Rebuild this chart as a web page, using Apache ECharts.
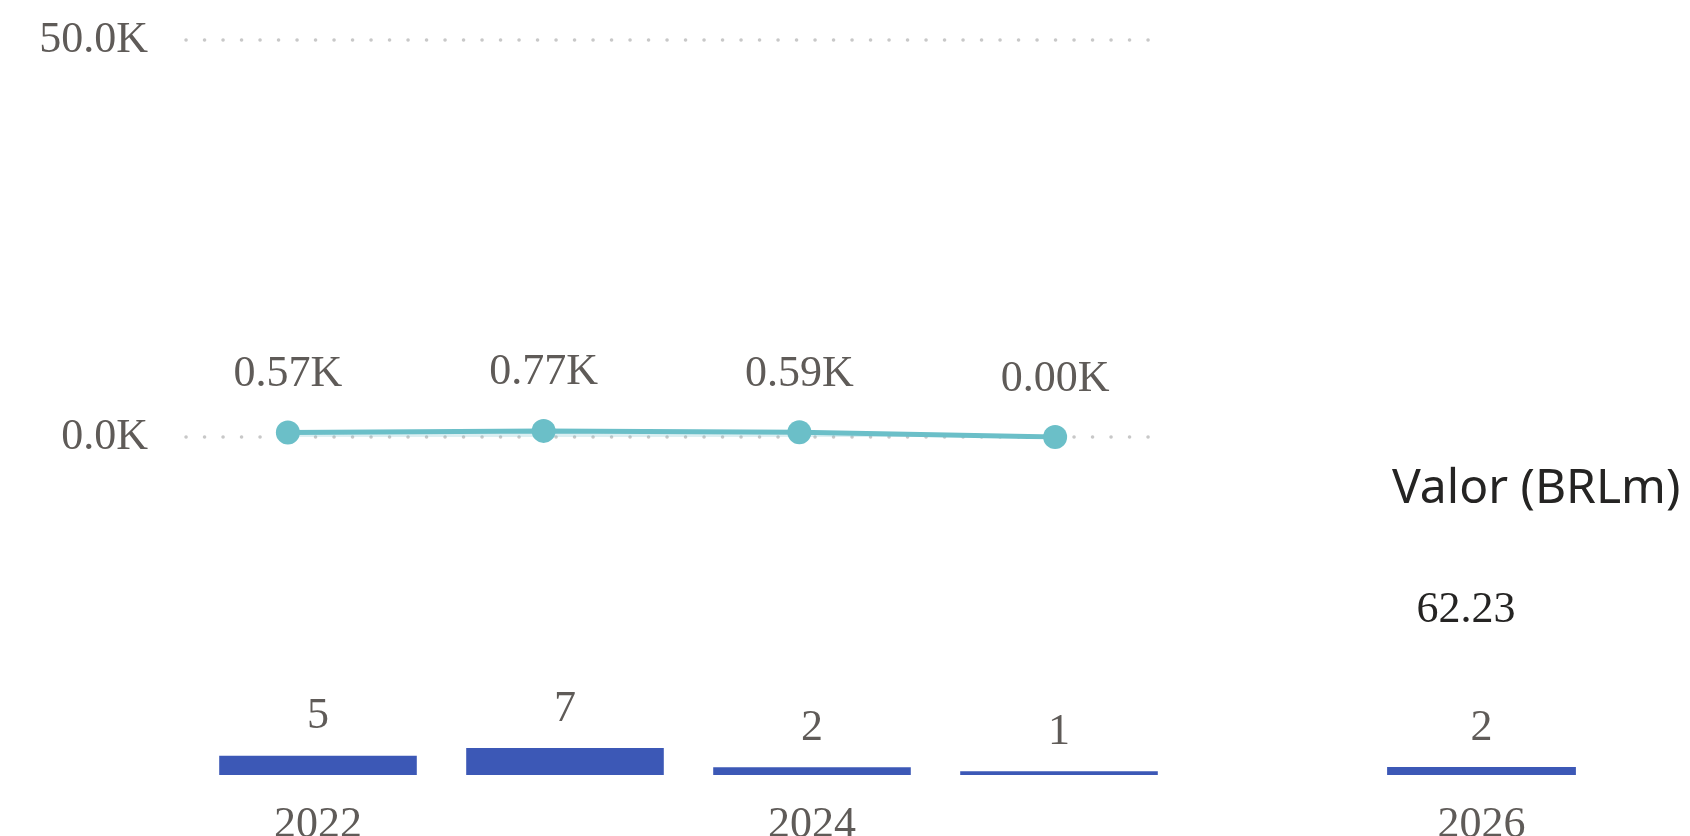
<!DOCTYPE html>
<html>
<head>
<meta charset="utf-8">
<script src="https://cdn.jsdelivr.net/npm/echarts@6/dist/echarts.min.js"></script>
<style>html,body{margin:0;padding:0;background:#fff}#c{width:1690px;height:836px}</style>
</head>
<body>
<div id="c"></div>
<script>
const years = ['2022', '2023', '2024', '2025'];
const lineValues = [570, 770, 590, 0];
const barValues = [5, 7, 2, 1];
const sideYears = ['2026'];
const sideBarValues = [2];
const sideTitle = 'Valor (BRLm)';
const sideKpi = '62.23';
const yTicks = [0, 50000];

const serif = '"Liberation Serif", "DejaVu Serif", serif';
const gray = '#5f5b58';
const chart = echarts.init(document.getElementById('c'));
chart.setOption({
  animation: false,
  title: [
    { text: sideTitle, left: 1387, top: 460, textStyle: { fontFamily: 'Noto Sans', fontWeight: 'normal', fontSize: 48, color: '#252423' } },
    { text: sideKpi, left: 1461, top: 583, textAlign: 'center', textStyle: { fontFamily: serif, fontWeight: 'normal', fontSize: 44, color: '#252423' } }
  ],
  grid: [
    { left: 186, top: 40, width: 964, height: 397, outerBoundsMode: 'none', containLabel: false },
    { left: 160, top: 40, width: 1023, height: 397, outerBoundsMode: 'none', containLabel: false },
    { left: 194.5, top: 582.5, width: 988, height: 192.5, outerBoundsMode: 'none', containLabel: false },
    { left: 1363.5, top: 582.5, width: 236, height: 192.5, outerBoundsMode: 'none', containLabel: false }
  ],
  xAxis: [
    { gridIndex: 0, type: 'category', data: years, show: false },
    { gridIndex: 1, type: 'category', data: years, show: false },
    { gridIndex: 2, type: 'category', data: years, axisLine: { show: false }, axisTick: { show: false },
      axisLabel: { interval: 1, margin: 28, fontFamily: serif, fontSize: 44, color: gray } },
    { gridIndex: 3, type: 'category', data: sideYears, axisLine: { show: false }, axisTick: { show: false },
      axisLabel: { margin: 28, fontFamily: serif, fontSize: 44, color: gray } }
  ],
  yAxis: [
    { gridIndex: 0, type: 'value', min: yTicks[0], max: yTicks[1], interval: yTicks[1] - yTicks[0],
      axisLine: { show: false }, axisTick: { show: false },
      axisLabel: { margin: 38, fontFamily: serif, fontSize: 44, color: gray, formatter: v => (v / 1000).toFixed(1) + 'K' },
      splitLine: { lineStyle: { color: '#c8c8c8', width: 3.5, type: [0.1, 18.4], cap: 'round' } } },
    { gridIndex: 1, type: 'value', min: yTicks[0], max: yTicks[1], show: false, splitLine: { show: false } },
    { gridIndex: 2, type: 'value', min: 0, max: 50, show: false, splitLine: { show: false } },
    { gridIndex: 3, type: 'value', min: 0, max: 48, show: false, splitLine: { show: false } }
  ],
  series: [
    { type: 'line', xAxisIndex: 1, yAxisIndex: 1, data: lineValues, symbol: 'circle', symbolSize: 24,
      itemStyle: { color: '#6bbfc8' }, lineStyle: { color: '#6bbfc8', width: 5 },
      areaStyle: { color: 'rgba(107,191,200,0.35)' },
      label: { show: true, position: 'top', distance: 24, fontFamily: serif, fontSize: 44, color: gray,
        formatter: p => (p.value / 1000).toFixed(2) + 'K' } },
    { type: 'bar', xAxisIndex: 2, yAxisIndex: 2, data: barValues, barWidth: '80%',
      itemStyle: { color: '#3c58b6' },
      label: { show: true, position: 'top', distance: 17, fontFamily: serif, fontSize: 44, color: gray } },
    { type: 'bar', xAxisIndex: 3, yAxisIndex: 3, data: sideBarValues, barWidth: '80%',
      itemStyle: { color: '#3c58b6' },
      label: { show: true, position: 'top', distance: 17, fontFamily: serif, fontSize: 44, color: gray } }
  ]
});
</script>
</body>
</html>
